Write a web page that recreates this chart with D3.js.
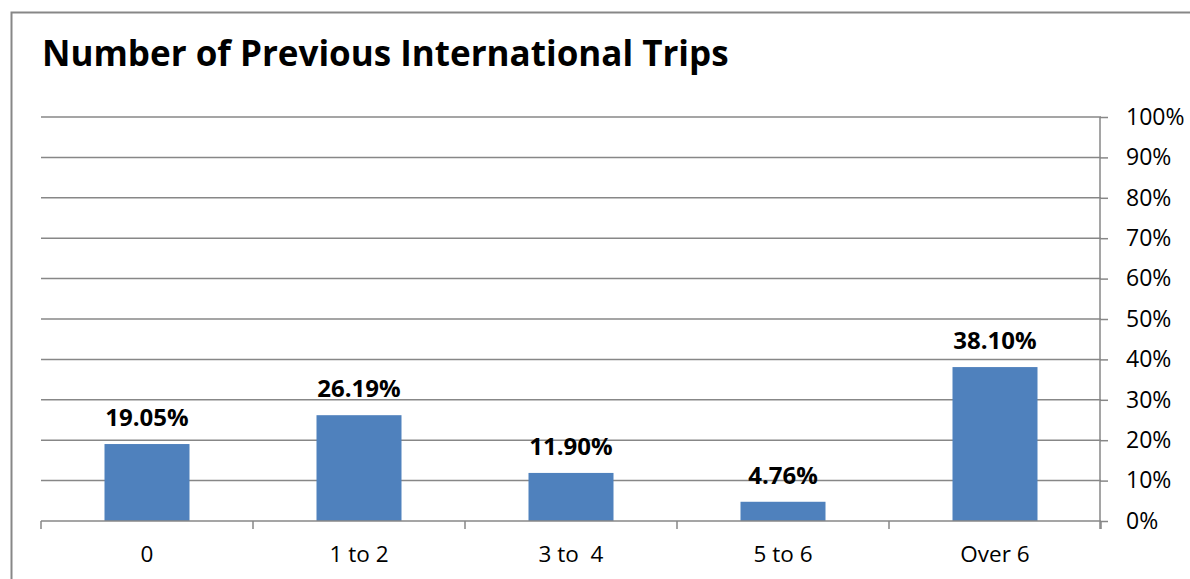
<!DOCTYPE html>
<html><head><meta charset="utf-8">
<script src="https://cdn.jsdelivr.net/npm/d3@7"></script>
<style>html,body{margin:0;padding:0;background:#fff;}svg{display:block;}</style>
</head><body>
<svg id="c" width="1190" height="579"></svg>
<script>
const categories = ["0", "1 to 2", "3 to  4", "5 to 6", "Over 6"];
const values = [19.05, 26.19, 11.90, 4.76, 38.10];
const valueLabels = ["19.05%", "26.19%", "11.90%", "4.76%", "38.10%"];
const yTicks = [0, 10, 20, 30, 40, 50, 60, 70, 80, 90, 100];
const title = "Number of Previous International Trips";

const svg = d3.select("#c");
const font = "'Open Sans', Lato, sans-serif";
const grey = "#878787";

// chart border
svg.append("path").attr("d", "M11.5,579 L11.5,12.5 L1190,12.5")
  .attr("fill", "none").attr("stroke", grey).attr("stroke-width", 2);

const m = {l: 41, r: 1101, t: 117, b: 521};
const x = d3.scaleBand().domain(categories).range([m.l, m.r]).paddingInner(0).paddingOuter(0);
const y = d3.scaleLinear().domain([0, 100]).range([m.b, m.t]);

// gridlines
svg.append("g").selectAll("line").data(yTicks.filter(d => d > 0)).join("line")
  .attr("x1", m.l).attr("x2", m.r)
  .attr("y1", d => y(d)).attr("y2", d => y(d))
  .attr("stroke", grey).attr("stroke-width", 1.5);

// bars
const bw = 85;
svg.append("g").selectAll("rect").data(values).join("rect")
  .attr("x", (d, i) => x(categories[i]) + x.bandwidth() / 2 - bw / 2)
  .attr("width", bw)
  .attr("y", d => y(d))
  .attr("height", d => y(0) - y(d))
  .attr("fill", "#4F81BD");

// right axis
const yAxis = d3.axisRight(y).tickValues(yTicks).tickSize(8).tickPadding(18)
  .tickFormat(d => d + "%");
const ga = svg.append("g").attr("transform", `translate(${m.r - 1},0)`).call(yAxis);
ga.select(".domain").attr("d", `M0,${m.t}V${m.b + 8}`).attr("stroke", grey).attr("stroke-width", 1.5);
ga.selectAll(".tick line").attr("stroke", grey).attr("stroke-width", 1.5);
ga.selectAll(".tick text").attr("font-family", font).attr("font-size", 23).attr("fill", "#000");

// bottom axis
const xAxis = d3.axisBottom(x).tickSize(0).tickPadding(25.5);
const gx = svg.append("g").attr("transform", `translate(0,${m.b})`).call(xAxis);
gx.select(".domain").attr("d", `M${m.l},0H${m.r}`).attr("stroke", grey).attr("stroke-width", 1.5);
gx.selectAll(".tick text").attr("font-family", font).attr("font-size", 22.5).attr("fill", "#000")
  .style("white-space", "pre");
// category boundary ticks
svg.append("g").selectAll("line").data(d3.range(categories.length + 1)).join("line")
  .attr("x1", i => m.l + i * x.bandwidth()).attr("x2", i => m.l + i * x.bandwidth())
  .attr("y1", m.b).attr("y2", m.b + 8)
  .attr("stroke", grey).attr("stroke-width", 1.5);

// value labels
svg.append("g").selectAll("text").data(values).join("text")
  .attr("x", (d, i) => x(categories[i]) + x.bandwidth() / 2)
  .attr("y", d => y(d) - 18)
  .attr("text-anchor", "middle")
  .attr("font-family", font).attr("font-weight", "bold").attr("font-size", 24)
  .attr("fill", "#000")
  .text((d, i) => valueLabels[i]);

// title
svg.append("text").attr("x", 42).attr("y", 66)
  .attr("font-family", font).attr("font-weight", "bold").attr("font-size", 35)
  .attr("fill", "#000").text(title);
</script>
</body></html>
